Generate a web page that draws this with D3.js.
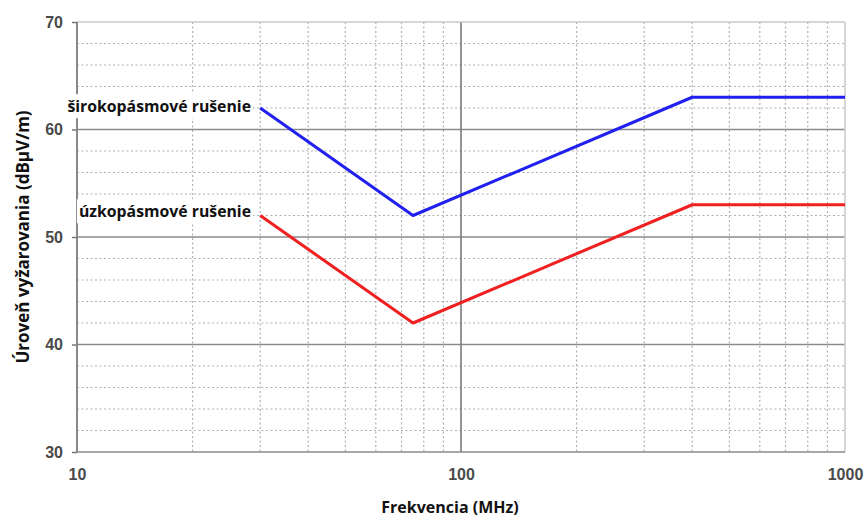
<!DOCTYPE html>
<html><head><meta charset="utf-8">
<script src="https://cdn.jsdelivr.net/npm/d3@7"></script>
<style>body{margin:0;background:#fff}</style>
</head><body>
<svg id="c" width="867" height="519"></svg>
<script>
const freqs = [30, 75, 400, 1000];
const broadband = [62, 52, 63, 63];
const narrowband = [52, 42, 53, 53];
const xTicks = [10, 100, 1000];
const yTicks = [30, 40, 50, 60, 70];
const seriesNames = ["širokopásmové rušenie", "úzkopásmové rušenie"];

const svg = d3.select("#c");
const L = 77, R = 845, T = 22, B = 452;
const x = d3.scaleLog().domain([10, 1000]).range([L, R]);
const y = d3.scaleLinear().domain([30, 70]).range([B, T]);

const g = svg.append("g");
const minorX = [];
for (let d = 10; d < 1000; d *= 10) for (let k = 2; k <= 9; k++) minorX.push(d * k);
g.selectAll(".vx").data(minorX).join("line")
  .attr("x1", d => x(d)).attr("x2", d => x(d)).attr("y1", T).attr("y2", B)
  .attr("stroke", "#b0b0b0").attr("stroke-width", 1.2).attr("stroke-dasharray", "2,2.5");
const minorY = d3.range(32, 70, 2).filter(v => v % 10 !== 0);
g.selectAll(".hy").data(minorY).join("line")
  .attr("x1", L).attr("x2", R).attr("y1", d => y(d)).attr("y2", d => y(d))
  .attr("stroke", "#b0b0b0").attr("stroke-width", 1.2).attr("stroke-dasharray", "2,2.5");
g.selectAll(".my").data([40, 50, 60]).join("line")
  .attr("x1", L).attr("x2", R).attr("y1", d => y(d)).attr("y2", d => y(d))
  .attr("stroke", "#8a8a8a").attr("stroke-width", 1.6);
g.append("line").attr("x1", x(100)).attr("x2", x(100)).attr("y1", T).attr("y2", B)
  .attr("stroke", "#7a7a7a").attr("stroke-width", 1.6);
g.append("line").attr("x1", L).attr("x2", R).attr("y1", T).attr("y2", T).attr("stroke", "#c8c8c8").attr("stroke-width", 1.5);
g.append("line").attr("x1", R).attr("x2", R).attr("y1", T).attr("y2", B).attr("stroke", "#c8c8c8").attr("stroke-width", 1.5);
g.append("line").attr("x1", L).attr("x2", R).attr("y1", B).attr("y2", B).attr("stroke", "#8a8a8a").attr("stroke-width", 1.6);
g.append("line").attr("x1", L).attr("x2", L).attr("y1", T).attr("y2", B).attr("stroke", "#8a8a8a").attr("stroke-width", 2);

const ya = svg.append("g").attr("transform", `translate(${L},0)`)
  .call(d3.axisLeft(y).tickValues(yTicks).tickSize(5).tickPadding(9).tickFormat(d3.format("d")));
ya.select(".domain").remove();
ya.selectAll("line").attr("stroke", "#777").attr("stroke-width", 1.5);
ya.selectAll("text").attr("font-family", "Liberation Sans, Arial, sans-serif").attr("font-weight", "bold")
  .attr("font-size", 16).attr("fill", "#4a4a4a");
const xa = svg.append("g").attr("transform", `translate(0,${B})`)
  .call(d3.axisBottom(x).tickValues(xTicks).tickSize(0).tickPadding(17).tickFormat(d3.format("d")));
xa.select(".domain").remove();
xa.selectAll("text").attr("font-family", "Liberation Sans, Arial, sans-serif").attr("font-weight", "bold")
  .attr("font-size", 16).attr("fill", "#4a4a4a");

const line = d3.line().x((d, i) => x(freqs[i])).y(d => y(d));
svg.append("path").datum(broadband).attr("d", line).attr("fill", "none")
  .attr("stroke", "#2020f0").attr("stroke-width", 3).attr("stroke-linejoin", "round");
svg.append("path").datum(narrowband).attr("d", line).attr("fill", "none")
  .attr("stroke", "#f02020").attr("stroke-width", 3).attr("stroke-linejoin", "round");

function label(txt, xr, yc) {
  const t = svg.append("text").text(txt).attr("x", xr).attr("y", yc)
    .attr("text-anchor", "end").attr("dominant-baseline", "middle")
    .attr("font-family", "Open Sans, sans-serif").attr("font-weight", "bold")
    .attr("font-size", 15.8).attr("fill", "#111");
  const bb = t.node().getBBox();
  svg.append("rect").attr("x", bb.x - 2).attr("y", bb.y - 1)
    .attr("width", bb.width + 4).attr("height", bb.height + 2).attr("fill", "#fff");
  t.raise();
}
label(seriesNames[0], 251, 108);
label(seriesNames[1], 251, 213);

svg.append("text").text("Frekvencia (MHz)").attr("x", 450).attr("y", 513).attr("text-anchor", "middle")
  .attr("font-family", "Open Sans, sans-serif").attr("font-weight", "bold").attr("font-size", 16).attr("fill", "#111");
svg.append("text").text("Úroveň vyžarovania (dBμV/m)")
  .attr("transform", `translate(29,237) rotate(-90)`).attr("text-anchor", "middle")
  .attr("font-family", "Open Sans, sans-serif").attr("font-weight", "bold").attr("font-size", 17).attr("fill", "#111");
</script>
</body></html>
